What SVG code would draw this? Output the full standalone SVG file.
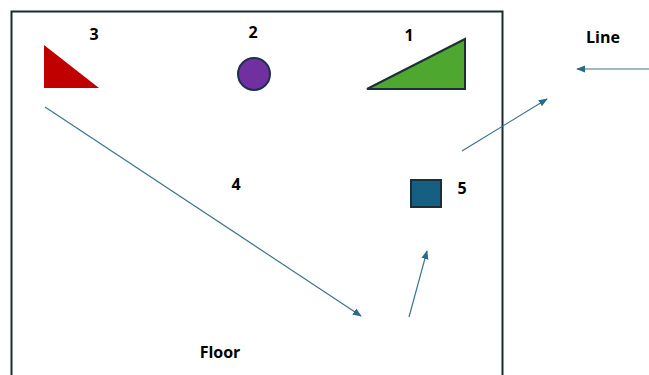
<svg xmlns="http://www.w3.org/2000/svg" width="649" height="375" viewBox="0 0 649 375">
<style>
.lbl{font-family:"Open Sans","Liberation Sans",sans-serif;font-weight:bold;font-size:16px;fill:#000;text-anchor:middle}
.conn{stroke:#3a7590;stroke-width:1.2;fill:none;marker-end:url(#ah)}
.shape{stroke:#1c2f36;stroke-width:2}
</style>
<defs>
<marker id="ah" viewBox="0 0 10 10" refX="9" refY="5" markerWidth="9" markerHeight="9" markerUnits="userSpaceOnUse" orient="auto">
<path d="M0,1 L10,5 L0,9 z" fill="#2a6a8a"/>
</marker>
</defs>
<rect width="649" height="375" fill="#fff"/>
<g id="floor">
<path d="M11.5,380 L11.5,11.5 L502.5,11.5 L502.5,380" fill="none" stroke="#1a2b2e" stroke-width="2"/>
<text class="lbl" x="220" y="358">Floor</text>
</g>
<g id="node3">
<polygon points="44,45 44,88 99,88" fill="#c00000"/>
<text class="lbl" x="94" y="40">3</text>
</g>
<g id="node2">
<circle cx="254" cy="74" r="16" fill="#7030a0" stroke="#1f2f4f" stroke-width="2"/>
<text class="lbl" x="253" y="38">2</text>
</g>
<g id="node1">
<polygon class="shape" points="367,89 465,39 465,89" fill="#4ea72e"/>
<text class="lbl" x="409" y="41">1</text>
</g>
<g id="node5">
<rect class="shape" x="411" y="180" width="30" height="27" fill="#156082"/>
<text class="lbl" x="462" y="194">5</text>
</g>
<g id="node4">
<text class="lbl" x="236" y="190">4</text>
</g>
<g id="line">
<text class="lbl" x="603" y="43">Line</text>
</g>
<g id="connectors">
<line class="conn" x1="45" y1="107" x2="361" y2="316"/>
<line class="conn" x1="409" y1="317" x2="427" y2="251"/>
<line class="conn" x1="462" y1="151" x2="547" y2="99"/>
<line class="conn" x1="649" y1="69" x2="577" y2="69"/>
</g>
</svg>
